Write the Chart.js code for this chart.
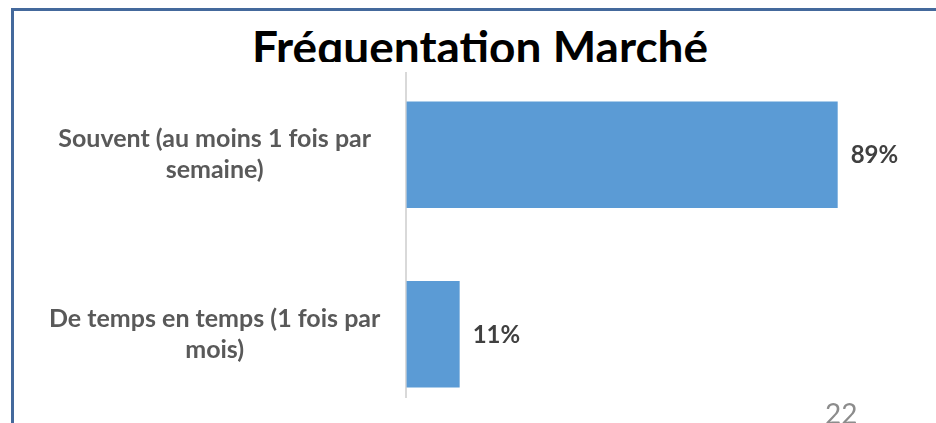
<!DOCTYPE html>
<html>
<head>
<meta charset="utf-8">
<script src="https://cdn.jsdelivr.net/npm/chart.js@4.4.1/dist/chart.umd.min.js"></script>
<style>
  html, body { margin: 0; padding: 0; background: #fff; }
  body { width: 936px; height: 423px; position: relative; overflow: hidden; font-family: Lato, 'Open Sans', sans-serif; }
  #frame { position: absolute; left: 11px; top: 8px; width: 940px; height: 430px; border-left: 3px solid #44699c; border-top: 3px solid #44699c; z-index: 3; }
  #wrap { position: absolute; left: 0; top: 0; width: 936px; height: 398px; overflow: hidden; }
  #title-box { position: absolute; left: 200px; top: 14px; width: 560px; height: 58px; background: #fff; z-index: 2; }
  #title { height: 48px; overflow: hidden; text-align: center; font-weight: bold; font-size: 46px; line-height: 66px; color: #000; }
  #page { position: absolute; left: 825px; top: 396px; font-size: 28px; line-height: 34px; color: #8c8c8c; z-index: 2; }
</style>
</head>
<body>
<div id="frame"></div>
<div id="wrap"><canvas id="chart" width="936" height="481"></canvas></div>
<div id="title-box"><div id="title">Fréquentation Marché</div></div>
<div id="page">22</div>
<script>
const categories = [
    ['Souvent (au moins 1 fois par', 'semaine)'],
    ['De temps en temps (1 fois par', 'mois)']
]
const values = [89, 11]
const valueLabels = ['89%', '11%']

const barLabels = {
    id: 'barLabels',
    afterDatasetsDraw(chart) {
        const ctx = chart.ctx
        const meta = chart.getDatasetMeta(0)
        ctx.save()
        ctx.font = 'bold 24px Lato'
        ctx.fillStyle = '#404040'
        ctx.textAlign = 'left'
        ctx.textBaseline = 'middle'
        meta.data.forEach((bar, i) => {
            ctx.fillText(valueLabels[i], bar.x + 13, bar.y + 1)
        })
        ctx.restore()
    }
}

new Chart(document.getElementById('chart'), {
    type: 'bar',
    data: {
        labels: categories,
        datasets: [{
            data: values,
            backgroundColor: '#5b9bd5',
            borderWidth: 0,
            categoryPercentage: 1,
            barPercentage: 0.594,
        }]
    },
    options: {
        indexAxis: 'y',
        responsive: false,
        animation: false,
        layout: {
            padding: { left: 23, right: 45, top: 65, bottom: 0 }
        },
        plugins: {
            legend: { display: false },
            tooltip: { enabled: false },
        },
        scales: {
            x: {
                display: false,
                min: 0,
                max: 100,
            },
            y: {
                grid: { display: false, drawTicks: false },
                border: { display: true, color: '#d9d9d9', width: 2 },
                ticks: {
                    crossAlign: 'center',
                    padding: 26,
                    color: '#595959',
                    font: { family: 'Lato', size: 25, weight: 'bold', lineHeight: 1.24 },
                }
            }
        }
    },
    plugins: [barLabels]
})
</script>
</body>
</html>
